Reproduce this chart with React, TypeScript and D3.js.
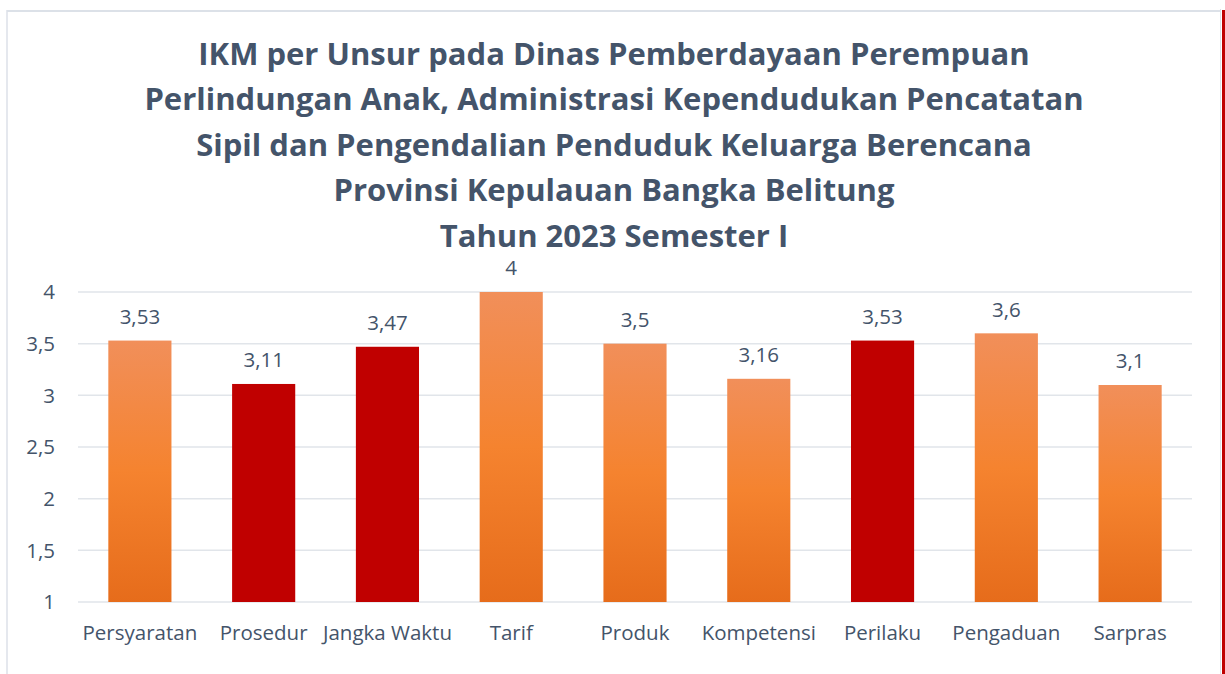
import React from "react";
import * as d3 from "d3";

const categories = ["Persyaratan", "Prosedur", "Jangka Waktu", "Tarif", "Produk", "Kompetensi", "Perilaku", "Pengaduan", "Sarpras"];
const values = [3.53, 3.11, 3.47, 4, 3.5, 3.16, 3.53, 3.6, 3.1];
const highlighted = [false, true, true, false, false, false, true, false, false];
const yTicks = [1, 1.5, 2, 2.5, 3, 3.5, 4];
const titleLines = [
  "IKM per Unsur pada Dinas Pemberdayaan Perempuan",
  "Perlindungan Anak, Administrasi Kependudukan Pencatatan",
  "Sipil dan Pengendalian Penduduk Keluarga Berencana",
  "Provinsi Kepulauan Bangka Belitung",
  "Tahun 2023 Semester I",
];

const fmt = (v: number) => String(v).replace(".", ",");

export default function App() {
  const W = 1225, H = 674;
  const x = d3.scaleBand().domain(categories).range([78, 1192]).paddingInner(0.49).paddingOuter(0.245);
  const y = d3.scaleLinear().domain([1, 4]).range([602, 292]);
  const textColor = "#44546A";
  const font = "'Open Sans', sans-serif";
  const fs = 20.5;
  return (
    <div style={{ position: "absolute", left: 0, top: 0 }}>
      <svg width={W} height={H} style={{ display: "block" }}>
        <defs>
          <linearGradient id="og" x1="0" y1="0" x2="0" y2="1">
            <stop offset="0" stopColor="#F18F5A" />
            <stop offset="0.5" stopColor="#F5832F" />
            <stop offset="1" stopColor="#E66C1B" />
          </linearGradient>
        </defs>
        <rect x={0} y={0} width={W} height={H} fill="#fff" />
        <line x1={7} x2={1220} y1={11} y2={11} stroke="#DCE1E8" strokeWidth={2} />
        <line x1={7} x2={7} y1={10} y2={H} stroke="#DCE1E8" strokeWidth={1.5} />
        <line x1={1220.5} x2={1220.5} y1={9} y2={H} stroke="#DCE1E8" strokeWidth={1} />
        <line x1={1223.5} x2={1223.5} y1={10} y2={H} stroke="#C00000" strokeWidth={3} />
        {titleLines.map((t, i) => (
          <text key={i} x={614} y={54 + i * 45.5} dy="0.35em" textAnchor="middle" fontFamily={font} fontWeight={700} fontSize={31} fill={textColor}>
            {t}
          </text>
        ))}
        {yTicks.map((t) => (
          <g key={t}>
            <line x1={78} x2={1192} y1={y(t)} y2={y(t)} stroke="#E1E5EA" strokeWidth={1.5} />
            <text x={55} y={y(t)} dy="0.35em" textAnchor="end" fontFamily={font} fontSize={fs} fill={textColor}>
              {fmt(t)}
            </text>
          </g>
        ))}
        {categories.map((c, i) => (
          <g key={c}>
            <rect x={x(c)} y={y(values[i])} width={x.bandwidth()} height={y(1) - y(values[i])} fill={highlighted[i] ? "#C00000" : "url(#og)"} />
            <text x={(x(c) as number) + x.bandwidth() / 2} y={y(values[i]) - 24} dy="0.35em" textAnchor="middle" fontFamily={font} fontSize={fs} fill={textColor}>
              {fmt(values[i])}
            </text>
            <text x={(x(c) as number) + x.bandwidth() / 2} y={633} dy="0.35em" textAnchor="middle" fontFamily={font} fontSize={fs} fill={textColor}>
              {c}
            </text>
          </g>
        ))}
      </svg>
    </div>
  );
}
